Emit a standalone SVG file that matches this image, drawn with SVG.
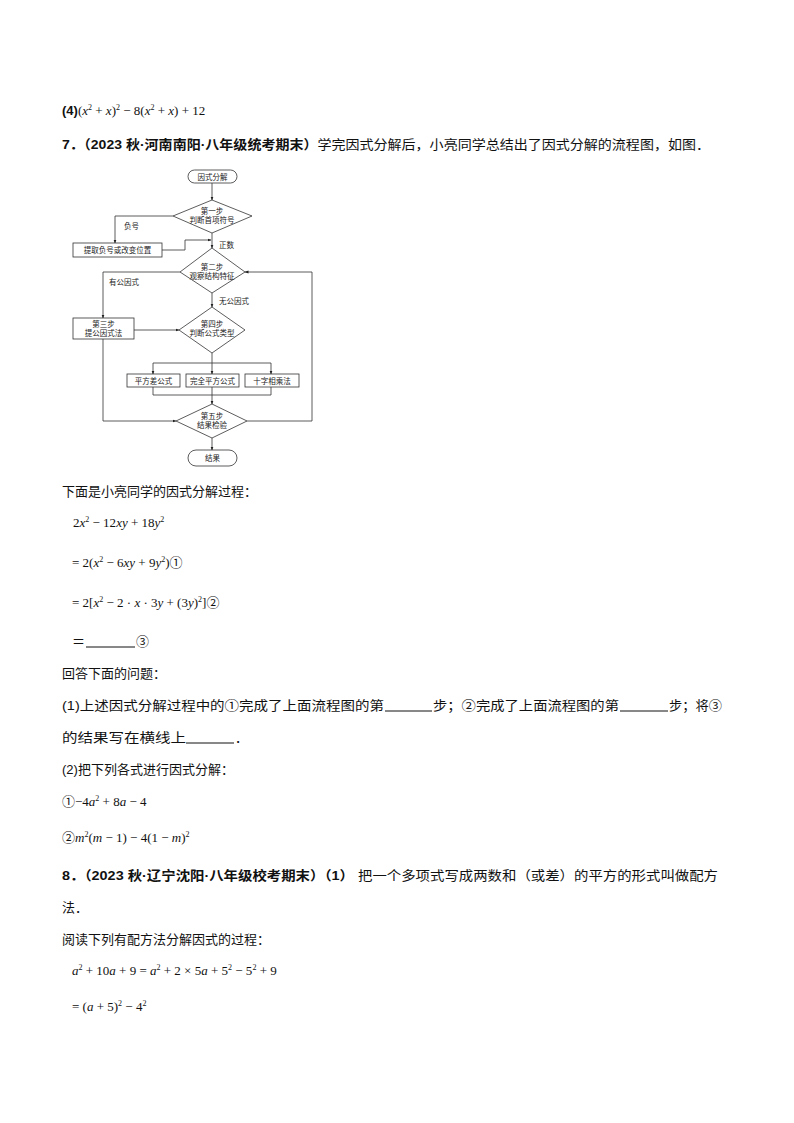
<svg xmlns="http://www.w3.org/2000/svg" width="794" height="1123" viewBox="0 0 794 1123">
<defs>
<marker id="ar" viewBox="0 0 8 8" refX="7" refY="4" markerWidth="5" markerHeight="5" orient="auto"><path d="M0,1 L8,4 L0,7 z" fill="#222"/></marker>
<style>
.t{font-family:"Liberation Sans","Noto Sans CJK SC",sans-serif;font-size:13px;fill:#111}
.b{font-weight:bold}
.m{font-family:"Liberation Serif","Noto Sans CJK SC",serif;font-size:13px;fill:#111}
.i{font-style:italic}
.f{font-family:"Noto Sans CJK SC",sans-serif;font-size:7.5px;fill:#222;text-anchor:middle}
.fl{font-family:"Noto Sans CJK SC",sans-serif;font-size:7.5px;fill:#222}
.s{fill:#fff;stroke:#333;stroke-width:0.8}
.c{fill:none;stroke:#333;stroke-width:0.8}
.u{stroke:#111;stroke-width:1}
</style>
</defs>
<rect width="794" height="1123" fill="#fff"/>

<text class="m" x="62" y="115"><tspan class="t b" font-size="12">(4)</tspan>(<tspan class="i">x</tspan><tspan font-size="8" dy="-5">2</tspan><tspan dy="5"> + </tspan><tspan class="i">x</tspan>)<tspan font-size="8" dy="-5">2</tspan><tspan dy="5"> − 8(</tspan><tspan class="i">x</tspan><tspan font-size="8" dy="-5">2</tspan><tspan dy="5"> + </tspan><tspan class="i">x</tspan>) + 12</text>
<text class="t" x="62" y="149" textLength="648" lengthAdjust="spacingAndGlyphs"><tspan class="b">7．（2023 秋·河南南阳·八年级统考期末）</tspan>学完因式分解后，小亮同学总结出了因式分解的流程图，如图．</text>

<g id="connectors">
<path class="c" d="M212,183 V200" marker-end="url(#ar)"/>
<path class="c" d="M173,216 H115 V243" marker-end="url(#ar)"/>
<path class="c" d="M162,250 H185 V240 H211" marker-end="url(#ar)"/>
<path class="c" d="M212,233 V248" marker-end="url(#ar)"/>
<path class="c" d="M180,272 H103 V318" marker-end="url(#ar)"/>
<path class="c" d="M212,293 V307" marker-end="url(#ar)"/>
<path class="c" d="M134,330 H179" marker-end="url(#ar)"/>
<path class="c" d="M212,353 V363 M153,363 H271"/>
<path class="c" d="M153,363 V374" marker-end="url(#ar)"/>
<path class="c" d="M212,363 V374" marker-end="url(#ar)"/>
<path class="c" d="M271,363 V374" marker-end="url(#ar)"/>
<path class="c" d="M153,387 V395 H271 V387 M212,387 V395"/>
<path class="c" d="M212,395 V404" marker-end="url(#ar)"/>
<path class="c" d="M103,339 V421 H176" marker-end="url(#ar)"/>
<path class="c" d="M247,421 H312 V272 H245" marker-end="url(#ar)"/>
<path class="c" d="M212,438 V450" marker-end="url(#ar)"/>
<text class="fl" x="124" y="229">负号</text>
<text class="fl" x="219" y="248">正数</text>
<text class="fl" x="109" y="285">有公因式</text>
<text class="fl" x="219" y="304">无公因式</text>
</g>

<g id="start"><rect class="s" x="188" y="170" width="49" height="13" rx="6.5"/><text class="f" x="212.5" y="179.5">因式分解</text></g>
<g id="step1"><polygon class="s" points="212,200 252,216 212,233 173,216"/><text class="f" x="212" y="214">第一步</text><text class="f" x="212" y="223">判断首项符号</text></g>
<g id="neg"><rect class="s" x="73" y="243" width="89" height="14"/><text class="f" x="117.5" y="253">提取负号或改变位置</text></g>
<g id="step2"><polygon class="s" points="212,248 245,272 212,293 180,272"/><text class="f" x="212" y="270">第二步</text><text class="f" x="212" y="279">观察结构特征</text></g>
<g id="step3"><rect class="s" x="73" y="318" width="61" height="21"/><text class="f" x="103.5" y="327">第三步</text><text class="f" x="103.5" y="336">提公因式法</text></g>
<g id="step4"><polygon class="s" points="212,307 245,330 212,353 179,330"/><text class="f" x="212" y="327">第四步</text><text class="f" x="212" y="336">判断公式类型</text></g>
<g id="f1"><rect class="s" x="127" y="374" width="53" height="13"/><text class="f" x="153.5" y="383.5">平方差公式</text></g>
<g id="f2"><rect class="s" x="186" y="374" width="53" height="13"/><text class="f" x="212.5" y="383.5">完全平方公式</text></g>
<g id="f3"><rect class="s" x="245" y="374" width="54" height="13"/><text class="f" x="272" y="383.5">十字相乘法</text></g>
<g id="step5"><polygon class="s" points="212,404 247,421 212,438 176,421"/><text class="f" x="212" y="419">第五步</text><text class="f" x="212" y="428">结果检验</text></g>
<g id="end"><rect class="s" x="188" y="450" width="49" height="16" rx="8"/><text class="f" x="212.5" y="461">结果</text></g>

<text class="t" x="62" y="496">下面是小亮同学的因式分解过程：</text>
<text class="m" x="73" y="527">2<tspan class="i">x</tspan><tspan font-size="8" dy="-5">2</tspan><tspan dy="5"> − 12</tspan><tspan class="i">xy</tspan> + 18<tspan class="i">y</tspan><tspan font-size="8" dy="-5">2</tspan></text>
<text class="m" x="72" y="567">= 2(<tspan class="i">x</tspan><tspan font-size="8" dy="-5">2</tspan><tspan dy="5"> − 6</tspan><tspan class="i">xy</tspan> + 9<tspan class="i">y</tspan><tspan font-size="8" dy="-5">2</tspan><tspan dy="5">)</tspan><tspan class="t" font-size="15">①</tspan></text>
<text class="m" x="72" y="607">= 2[<tspan class="i">x</tspan><tspan font-size="8" dy="-5">2</tspan><tspan dy="5"> − 2 · </tspan><tspan class="i">x</tspan> · 3<tspan class="i">y</tspan> + (3<tspan class="i">y</tspan>)<tspan font-size="8" dy="-5">2</tspan><tspan dy="5">]</tspan><tspan class="t" font-size="15">②</tspan></text>
<text class="t" x="72" y="646">＝</text>
<line class="u" x1="86" y1="647" x2="135" y2="647"/>
<text class="t" x="136" y="646" font-size="15">③</text>
<text class="t" x="62" y="678">回答下面的问题：</text>
<text class="t" x="62" y="710" textLength="322" lengthAdjust="spacingAndGlyphs">(1)上述因式分解过程中的①完成了上面流程图的第</text>
<line class="u" x1="385" y1="711" x2="432" y2="711"/>
<text class="t" x="433" y="710" textLength="186" lengthAdjust="spacingAndGlyphs">步；②完成了上面流程图的第</text>
<line class="u" x1="620" y1="711" x2="668" y2="711"/>
<text class="t" x="669" y="710" textLength="53" lengthAdjust="spacingAndGlyphs">步；将③</text>
<text class="t" x="62" y="742" textLength="124" lengthAdjust="spacingAndGlyphs">的结果写在横线上</text>
<line class="u" x1="186" y1="743" x2="234" y2="743"/>
<text class="t" x="235" y="742">．</text>
<text class="t" x="62" y="774">(2)把下列各式进行因式分解：</text>
<text class="m" x="62" y="806"><tspan class="t" font-size="15">①</tspan>−4<tspan class="i">a</tspan><tspan font-size="8" dy="-5">2</tspan><tspan dy="5"> + 8</tspan><tspan class="i">a</tspan> − 4</text>
<text class="m" x="62" y="842"><tspan class="t" font-size="15">②</tspan><tspan class="i">m</tspan><tspan font-size="8" dy="-5">2</tspan><tspan dy="5">(</tspan><tspan class="i">m</tspan> − 1) − 4(1 − <tspan class="i">m</tspan>)<tspan font-size="8" dy="-5">2</tspan></text>
<text class="t" x="62" y="880" textLength="656" lengthAdjust="spacingAndGlyphs"><tspan class="b">8．（2023 秋·辽宁沈阳·八年级校考期末）（1）</tspan> 把一个多项式写成两数和（或差）的平方的形式叫做配方</text>
<text class="t" x="62" y="912">法．</text>
<text class="t" x="62" y="944">阅读下列有配方法分解因式的过程：</text>
<text class="m" x="72" y="975"><tspan class="i">a</tspan><tspan font-size="8" dy="-5">2</tspan><tspan dy="5"> + 10</tspan><tspan class="i">a</tspan> + 9 = <tspan class="i">a</tspan><tspan font-size="8" dy="-5">2</tspan><tspan dy="5"> + 2 × 5</tspan><tspan class="i">a</tspan> + 5<tspan font-size="8" dy="-5">2</tspan><tspan dy="5"> − 5</tspan><tspan font-size="8" dy="-5">2</tspan><tspan dy="5"> + 9</tspan></text>
<text class="m" x="72" y="1011">= (<tspan class="i">a</tspan> + 5)<tspan font-size="8" dy="-5">2</tspan><tspan dy="5"> − 4</tspan><tspan font-size="8" dy="-5">2</tspan></text>
</svg>
